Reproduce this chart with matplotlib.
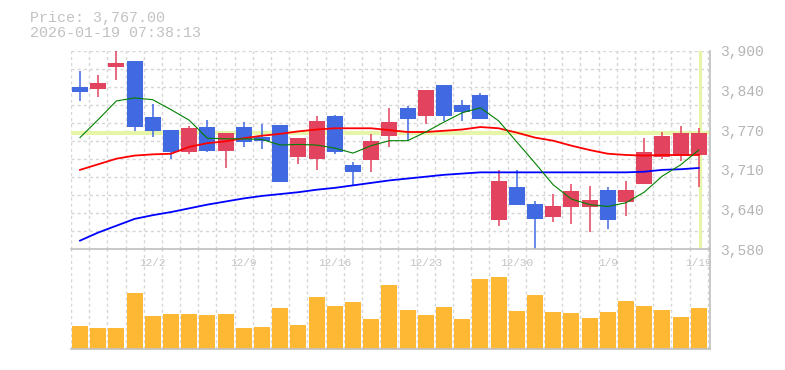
import numpy as np
import matplotlib
matplotlib.use("Agg")
import matplotlib.pyplot as plt

# Daily candles, 2025-11-26 .. 2026-01-19
dates = ['11/26', '11/27', '11/28', '12/1', '12/2', '12/3', '12/4', '12/5',
         '12/8', '12/9', '12/10', '12/11', '12/12', '12/15', '12/16', '12/17',
         '12/18', '12/19', '12/22', '12/23', '12/24', '12/25', '12/26', '12/29',
         '12/30', '1/5', '1/6', '1/7', '1/8', '1/9', '1/13', '1/14', '1/15',
         '1/16', '1/19']
label_dates = ['12/2', '12/9', '12/16', '12/23', '12/30', '1/9', '1/19']

opens = [3841, 3839, 3874, 3883, 3793, 3772, 3737, 3777, 3739, 3777, 3761, 3780,
         3729, 3725, 3795, 3716, 3724, 3763, 3808, 3795, 3845, 3813, 3829, 3627,
         3680, 3653, 3632, 3648, 3648, 3676, 3656, 3685, 3729, 3730, 3732]
highs = [3867, 3861, 3900, 3884, 3814, 3772, 3779, 3788, 3768, 3785, 3782, 3781,
         3760, 3795, 3796, 3720, 3766, 3808, 3811, 3837, 3845, 3821, 3832, 3708,
         3708, 3658, 3669, 3685, 3682, 3680, 3690, 3759, 3769, 3779, 3775]
lows = [3819, 3826, 3853, 3771, 3761, 3726, 3734, 3737, 3711, 3745, 3742, 3688,
        3718, 3707, 3734, 3683, 3705, 3745, 3755, 3782, 3787, 3787, 3790, 3618,
        3651, 3581, 3624, 3621, 3608, 3613, 3634, 3685, 3726, 3723, 3681]
closes = [3834, 3848, 3880, 3777, 3771, 3736, 3775, 3739, 3767, 3753, 3755, 3689,
          3759, 3787, 3736, 3705, 3755, 3785, 3790, 3837, 3795, 3801, 3790, 3690,
          3651, 3629, 3650, 3674, 3659, 3627, 3676, 3737, 3763, 3767, 3767]
volume = [69000, 63000, 63000, 168000, 99000, 105000, 105000, 102000, 105000,
          63000, 66000, 123000, 72000, 156000, 129000, 141000, 90000, 192000,
          117000, 102000, 126000, 90000, 210000, 216000, 114000, 162000, 111000,
          108000, 93000, 111000, 144000, 129000, 117000, 96000, 123000]

ma5 = [3760, 3789, 3819, 3824, 3821, 3805, 3788, 3759, 3758, 3758, 3757, 3748,
       3749, 3748, 3743, 3735, 3747, 3755, 3755, 3769, 3785, 3800, 3808, 3787,
       3753, 3719, 3684, 3661, 3652, 3649, 3655, 3672, 3698, 3716, 3740]
ma25 = [3708, 3717, 3726, 3731, 3733, 3734, 3745, 3751, 3754, 3759, 3763, 3766,
        3770, 3773, 3775, 3775, 3775, 3772, 3769, 3769, 3771, 3773, 3777, 3775,
        3768, 3760, 3755, 3747, 3740, 3734, 3732, 3731, 3732, 3732, 3732]
ma75 = [3594, 3607, 3618, 3629, 3635, 3640, 3646, 3652, 3657, 3662, 3666, 3669,
        3672, 3676, 3679, 3683, 3687, 3691, 3694, 3697, 3700, 3702, 3704, 3704,
        3704, 3704, 3704, 3704, 3704, 3704, 3704, 3705, 3708, 3709, 3711]

price = 3767.00
stamp = "2026-01-19 07:38:13"
y_min, y_max = 3580, 3900

UP = '#e2435f'
DOWN = '#4169e1'
GRID = '#d6d6d6'
SPINE = '#bfbfbf'
CROSS = '#e6f5a8'
FONT = 'Liberation Mono'

o = np.array(opens); c = np.array(closes)
h = np.array(highs); l = np.array(lows)
x = np.arange(len(dates))
colors = np.where(c >= o, UP, DOWN)

fig = plt.figure(figsize=(7.85, 3.7), dpi=100)
# volume panel first, so the price panel (and its date labels) sit on top
axv = fig.add_axes([0.0901, 0.0559, 0.8144, 0.2703])
ax = fig.add_axes([0.0901, 0.3262, 0.8144, 0.5368])
axv.patch.set_alpha(0)
ax.patch.set_alpha(0)

xlim = (-0.51, len(dates) - 0.38)
for a in (ax, axv):
    a.set_xlim(*xlim)
    for s in ('top', 'left'):
        a.spines[s].set_visible(False)
    for s in ('right', 'bottom'):
        a.spines[s].set_color(SPINE)
        a.spines[s].set_linewidth(1.2)
    for xb in np.arange(len(dates) + 1) - 0.5:
        a.axvline(xb, color=GRID, lw=1.0, ls=(0, (2.2, 2.2)), zorder=0)

# price panel
ax.set_ylim(y_min, y_max)
for yg in np.linspace(y_min, y_max, 12)[1:]:
    ax.axhline(yg, color=GRID, lw=1.0, ls=(0, (2.2, 2.2)), zorder=0)

ax.axhline(price, color=CROSS, lw=3, zorder=1)
ax.axvline(x[-1] + 0.05, color=CROSS, lw=2.3, zorder=1)

ax.vlines(x, l, h, colors=colors, lw=1.1, zorder=2)
ax.bar(x, np.abs(c - o), bottom=np.minimum(o, c), width=0.88, color=colors, zorder=3)

ax.plot(x, ma75, color='#0000ff', lw=1.3, zorder=4)
ax.plot(x, ma25, color='#ff0000', lw=1.3, zorder=4)
ax.plot(x, ma5, color='#008000', lw=0.8, zorder=4)

yt = np.linspace(y_min, y_max, 6)
ax.yaxis.tick_right()
ax.set_yticks(yt)
ax.set_yticklabels(['{:,.0f}'.format(round(v, -1)) for v in yt])
ax.tick_params(axis='y', length=0, pad=7, labelsize=10.5, labelcolor='#b4b4b4')
for t in ax.get_yticklabels():
    t.set_fontfamily(FONT)
    t.set_va('center_baseline')

ax.set_xticks([dates.index(d) for d in label_dates])
ax.set_xticklabels(label_dates)
ax.tick_params(axis='x', length=0, pad=6, labelsize=8, labelcolor='#c4c4c4')
for t in ax.get_xticklabels():
    t.set_fontfamily(FONT)

# volume panel
axv.set_ylim(0, 300000)
axv.bar(x, volume, width=0.88, color='#ffb834', zorder=2)
axv.set_xticks([])
axv.set_yticks([])

fig.text(30 / 785, 1 - 18 / 370, 'Price: {:,.2f}'.format(price), fontsize=10.8,
         family=FONT, color='#c2c2c2', va='center')
fig.text(30 / 785, 1 - 33 / 370, stamp, fontsize=10.8,
         family=FONT, color='#c2c2c2', va='center')

fig.savefig('out.png', dpi=100)
